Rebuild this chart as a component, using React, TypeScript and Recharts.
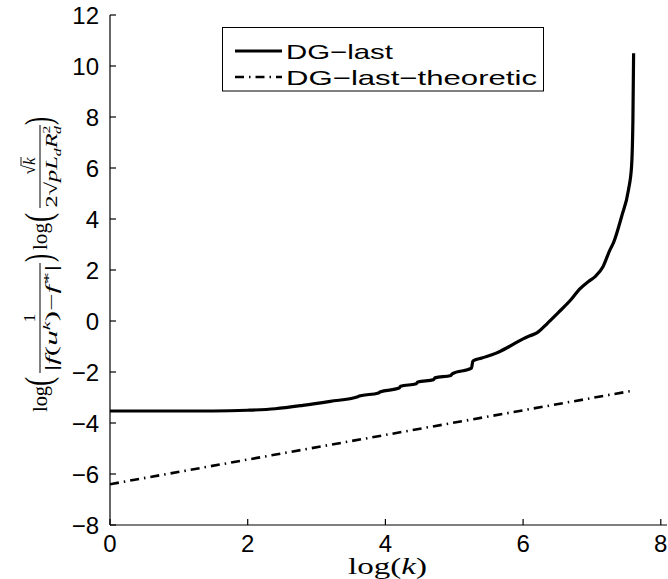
import React from "react";
import { LineChart, Line, XAxis, YAxis } from "recharts";

// DG-last curve (log(k), value)
const lastX = [
  0, 0.5, 1, 1.5, 2, 2.4, 2.8, 3.2, 3.6, 3.62, 3.9, 3.92, 4.2, 4.22, 4.45,
  4.47, 4.7, 4.72, 4.95, 4.97, 5.25, 5.27, 5.4, 5.6, 5.8, 6.0, 6.1, 6.2, 6.35,
  6.5, 6.7, 6.82, 6.95, 7.05, 7.16, 7.26, 7.31, 7.43, 7.53, 7.575, 7.595, 7.605,
];
const lastY = [
  -3.53, -3.53, -3.53, -3.53, -3.5, -3.44, -3.31, -3.15, -2.97, -2.945, -2.82,
  -2.785, -2.63, -2.56, -2.46, -2.39, -2.3, -2.23, -2.14, -2.07, -1.85, -1.57,
  -1.45, -1.27, -1.0, -0.7, -0.58, -0.47, -0.1, 0.3, 0.85, 1.25, 1.55, 1.75,
  2.13, 2.78, 3.05, 4.09, 5.14, 6.05, 7.9, 10.5,
];

// DG-last-theoretic line
const theoX = [0, 7.62];
const theoY = [-6.4, -2.72];

const xTicks = [0, 2, 4, 6, 8];
const yTicks = [-8, -6, -4, -2, 0, 2, 4, 6, 8, 10, 12];

const lastData = lastX.map((x, i) => ({ x, y: lastY[i] }));
const theoData = theoX.map((x, i) => ({ x, y: theoY[i] }));

const sans = "'Liberation Sans', Arial, Helvetica, sans-serif";
const serif = "'Liberation Serif', 'DejaVu Serif', serif";
const dashDot = "9 5 1.5 5";
const TICK = 6;

const fmt = (v: number) => (v < 0 ? `\u2212${-v}` : `${v}`);

const axisLine = { stroke: "#000", strokeWidth: 1.2 };

// inward MATLAB-style ticks, drawn together with the label
const BottomTick = (p: any) => (
  <g>
    <line x1={p.x} x2={p.x} y1={p.y - 10} y2={p.y - 10 - TICK} stroke="#000" strokeWidth={1.2} />
    <text x={p.x} y={p.y} dy="0.71em" textAnchor="middle" fontSize={24} fontFamily={sans} fill="#000">
      {fmt(p.payload.value)}
    </text>
  </g>
);
const LeftTick = (p: any) => (
  <g>
    <line x1={p.x + 11} x2={p.x + 11 + TICK} y1={p.y} y2={p.y} stroke="#000" strokeWidth={1.2} />
    <text x={p.x} y={p.y} dy="0.355em" textAnchor="end" fontSize={24} fontFamily={sans} fill="#000">
      {fmt(p.payload.value)}
    </text>
  </g>
);
const TopTick = (p: any) => (
  <line x1={p.x} x2={p.x} y1={p.y} y2={p.y + TICK} stroke="#000" strokeWidth={1.2} />
);
const RightTick = (p: any) => (
  <line x1={p.x} x2={p.x - TICK} y1={p.y} y2={p.y} stroke="#000" strokeWidth={1.2} />
);

function Overlay() {
  return (
    <svg
      width={668}
      height={579}
      style={{ position: "absolute", left: 0, top: 0, pointerEvents: "none" }}
    >
      {/* legend */}
      <rect x={222.5} y={27.5} width={321} height={63.5} fill="#fff" stroke="#000" strokeWidth={1} />
      <line x1={235} x2={282} y1={51} y2={51} stroke="#000" strokeWidth={3} />
      <text x={286} y={59} fontSize={21} fontFamily={sans} textLength={107} lengthAdjust="spacingAndGlyphs">
        DG{"\u2212"}last
      </text>
      <line x1={235} x2={282} y1={77} y2={77} stroke="#000" strokeWidth={2.6} strokeDasharray={dashDot} />
      <text x={286} y={85} fontSize={21} fontFamily={sans} textLength={251} lengthAdjust="spacingAndGlyphs">
        DG{"\u2212"}last{"\u2212"}theoretic
      </text>

      {/* x label */}
      <text x={348} y={574} fontSize={24} fontFamily={serif} textLength={79} lengthAdjust="spacingAndGlyphs">
        log(<tspan fontStyle="italic">k</tspan>)
      </text>

      {/* y label */}
      <g transform="translate(40,265) rotate(-90)" fontFamily={serif} fill="#000">
        <text x={-147} y={7} fontSize={21} textLength={26} lengthAdjust="spacingAndGlyphs">log</text>
        <text x={-121} y={11} fontSize={38} textLength={9} lengthAdjust="spacingAndGlyphs">(</text>
        <line x1={-108} x2={2} y1={0} y2={0} stroke="#000" strokeWidth={1} />
        <text x={-53} y={-5} fontSize={17} textAnchor="middle">1</text>
        <text x={-53} y={17} fontSize={17} textAnchor="middle" textLength={106} lengthAdjust="spacingAndGlyphs">
          |<tspan fontStyle="italic">f</tspan>(<tspan fontStyle="italic">u</tspan>
          <tspan fontSize={11} dy={-7} fontStyle="italic">k</tspan>
          <tspan dy={7}>){"\u2212"}</tspan>
          <tspan fontStyle="italic">f</tspan>
          <tspan fontSize={11} dy={-7}>{"\u2217"}</tspan>
          <tspan dy={7}>|</tspan>
        </text>
        <text x={3} y={11} fontSize={38} textLength={8} lengthAdjust="spacingAndGlyphs">)</text>

        <text x={15} y={7} fontSize={21} textLength={27} lengthAdjust="spacingAndGlyphs">log</text>
        <text x={43} y={11} fontSize={38} textLength={9} lengthAdjust="spacingAndGlyphs">(</text>
        <line x1={57} x2={140} y1={0} y2={0} stroke="#000" strokeWidth={1} />
        <text x={99} y={-5} fontSize={17} textAnchor="middle">
          {"\u221A"}<tspan fontStyle="italic">k</tspan>
        </text>
        <line x1={99} x2={108} y1={-19} y2={-19} stroke="#000" strokeWidth={0.9} />
        <text x={98.5} y={17} fontSize={17} textAnchor="middle" textLength={82} lengthAdjust="spacingAndGlyphs">
          2{"\u221A"}<tspan fontStyle="italic">pL</tspan>
          <tspan fontSize={11} dy={4} fontStyle="italic">d</tspan>
          <tspan dy={-4} fontStyle="italic">R</tspan>
          <tspan fontSize={11} dy={-7}>2</tspan>
          <tspan fontSize={11} dx={-6} dy={11} fontStyle="italic">d</tspan>
        </text>
        <text x={140} y={11} fontSize={38} textLength={8} lengthAdjust="spacingAndGlyphs">)</text>
      </g>
    </svg>
  );
}

export default function App() {
  return (
    <div style={{ position: "absolute", left: 0, top: 0, width: 668, height: 579, background: "#fff" }}>
      <LineChart width={668} height={579} margin={{ top: 15, right: 1, bottom: 0, left: 0 }}>
        <XAxis
          xAxisId="b"
          type="number"
          dataKey="x"
          domain={[0, 8.09]}
          ticks={xTicks}
          interval={0}
          allowDataOverflow
          height={54}
          tickSize={0}
          tickMargin={10}
          tick={BottomTick}
          axisLine={axisLine}
          tickLine={false}
        />
        <XAxis
          xAxisId="t"
          orientation="top"
          type="number"
          dataKey="x"
          domain={[0, 8.09]}
          ticks={xTicks}
          interval={0}
          allowDataOverflow
          height={0}
          tickSize={0}
          tickMargin={0}
          tick={TopTick}
          axisLine={axisLine}
          tickLine={false}
        />
        <YAxis
          yAxisId="l"
          type="number"
          domain={[-8, 12]}
          ticks={yTicks}
          interval={0}
          allowDataOverflow
          width={110}
          tickSize={0}
          tickMargin={11}
          tick={LeftTick}
          axisLine={axisLine}
          tickLine={false}
        />
        <YAxis
          yAxisId="r"
          orientation="right"
          type="number"
          domain={[-8, 12]}
          ticks={yTicks}
          interval={0}
          allowDataOverflow
          width={0}
          tickSize={0}
          tickMargin={0}
          tick={RightTick}
          axisLine={axisLine}
          tickLine={false}
        />
        <Line
          xAxisId="b"
          yAxisId="l"
          data={theoData}
          dataKey="y"
          type="linear"
          stroke="#000"
          strokeWidth={2.6}
          strokeDasharray={dashDot}
          dot={false}
          isAnimationActive={false}
        />
        <Line
          xAxisId="b"
          yAxisId="l"
          data={lastData}
          dataKey="y"
          type="monotone"
          stroke="#000"
          strokeWidth={3.2}
          dot={false}
          isAnimationActive={false}
        />
      </LineChart>
      <Overlay />
    </div>
  );
}
